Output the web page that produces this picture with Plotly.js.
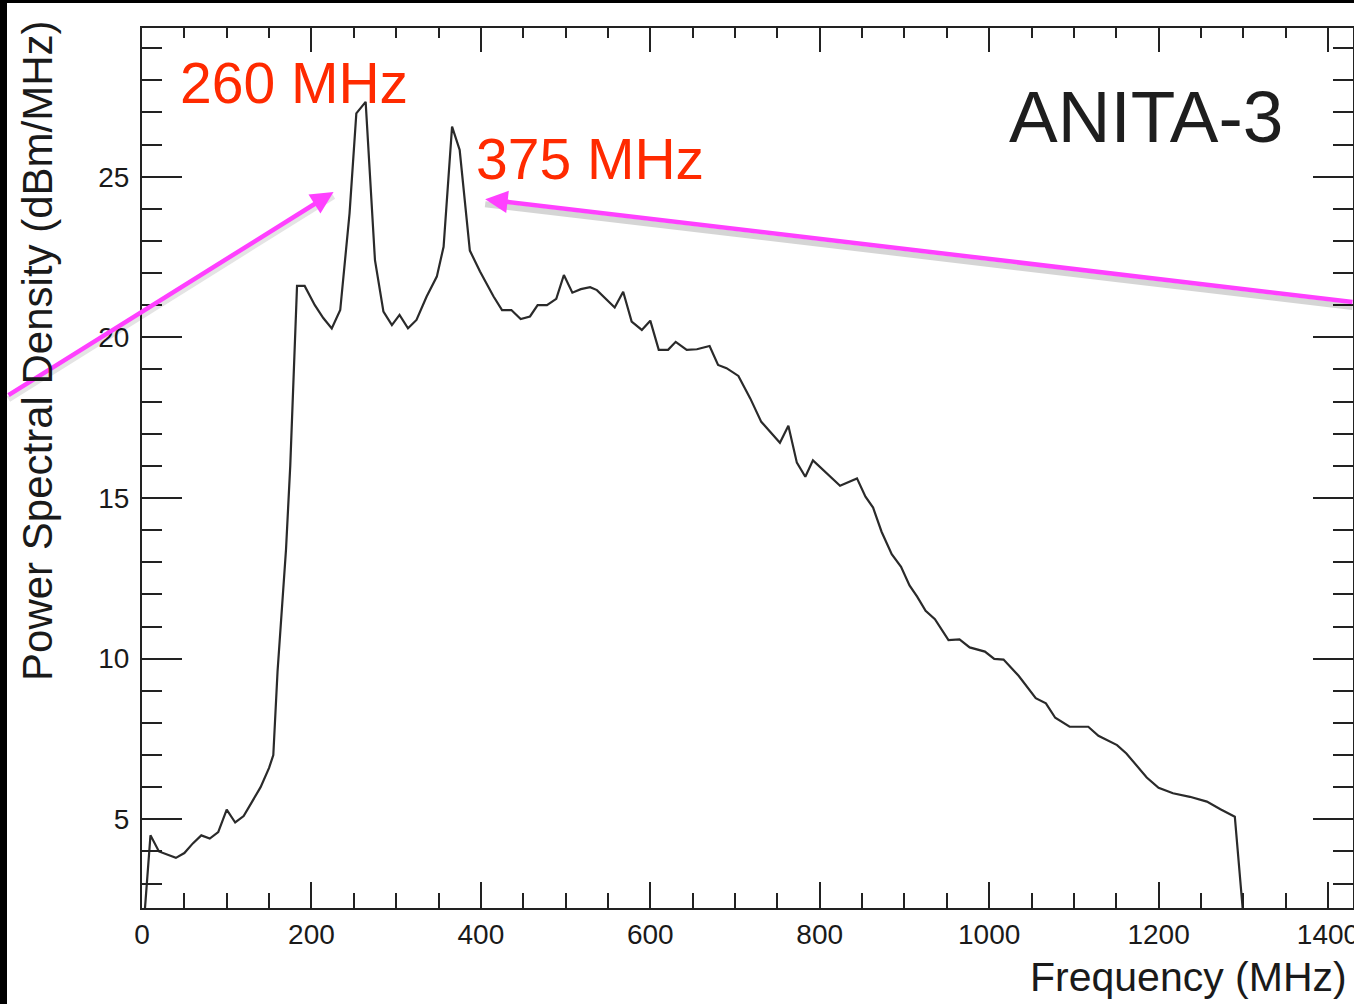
<!DOCTYPE html>
<html>
<head>
<meta charset="utf-8">
<script src="https://cdn.plot.ly/plotly-3.0.1.min.js"></script>
<style>
  html, body { margin: 0; padding: 0; background: #000; width: 1354px; height: 1004px; overflow: hidden; }
  #chart { position: absolute; left: 7px; top: 3px; width: 1347px; height: 1001px; background: #fff; overflow: hidden; }
</style>
</head>
<body>
<div id="chart"></div>
<script>
// Frequency (MHz)
const freq = [0,10,20,30,40,50,60,70,80,90,100,110,120,130,140,150,155,160,165,170,175,180,183,192,204,214,224,234,245,253,264,275,285,295,304,314,324,336,348,356,366,375,387,399,415,425,436,447,458,467,478,489,498,508,518,529,537,558,568,578,590,600,610,621,630,643,655,670,680,690,704,718,731,753,763,773,783,792,807,824,844,854,863,873,885,896,906,915,925,936,952,965,977,995,1006,1017,1035,1049,1055,1067,1078,1095,1117,1129,1143,1151,1162,1186,1200,1217,1237,1257,1273,1290,1300];
// Power spectral density (dBm/MHz)
const psd = [1.0,4.5,4.0,3.9,3.8,3.95,4.25,4.5,4.4,4.6,5.3,4.9,5.1,5.55,6.0,6.6,7.0,9.6,11.4,13.4,16.0,19.9,21.6,21.6,21.0,20.6,20.28,20.85,23.86,26.97,27.33,22.4,20.8,20.38,20.7,20.28,20.54,21.27,21.89,22.82,26.56,25.83,22.7,22.05,21.27,20.85,20.85,20.57,20.65,21.0,21.0,21.2,21.94,21.39,21.5,21.56,21.47,20.93,21.42,20.49,20.23,20.52,19.61,19.61,19.86,19.61,19.63,19.73,19.14,19.04,18.8,18.1,17.37,16.72,17.25,16.1,15.66,16.17,15.8,15.38,15.61,15.04,14.7,13.95,13.25,12.86,12.28,11.93,11.49,11.23,10.58,10.6,10.35,10.22,9.99,9.97,9.46,8.95,8.77,8.61,8.16,7.88,7.88,7.6,7.4,7.31,7.05,6.3,5.98,5.81,5.70,5.55,5.31,5.08,2.0];

const xTickVals = [0,200,400,600,800,1000,1200,1400];
const xTickText = ['0','200','400','600','800','1000','1200','1400'];
const yTickVals = [5,10,15,20,25];
const yTickText = ['5','10','15','20','25'];

const peakLabels = ['260 MHz', '375 MHz'];
const experimentLabel = 'ANITA-3';
const xTitle = 'Frequency (MHz)';
const yTitle = 'Power Spectral Density (dBm/MHz)';

const FONT = 'Liberation Sans, Arial, Helvetica, sans-serif';
const AX = '#222';
const MAG = '#ff40ff';
const RED = '#ff2a00';

const traces = [
  { x: freq, y: psd, type: 'scatter', mode: 'lines', line: { color: '#2a2a2a', width: 2.2 }, hoverinfo: 'skip', xaxis: 'x', yaxis: 'y' },
  { x: freq, y: psd, type: 'scatter', mode: 'lines', line: { color: 'rgba(0,0,0,0)', width: 0 }, hoverinfo: 'skip', xaxis: 'x2', yaxis: 'y2', showlegend: false }
];

const xr = [0, 1429.5];
const yr = [2.239, 29.628];

const layout = {
  width: 1347, height: 1001,
  margin: { l: 135, r: 1, t: 25, b: 96 },
  paper_bgcolor: '#fff', plot_bgcolor: '#fff',
  showlegend: false,
  font: { family: FONT, color: '#1a1a1a' },
  xaxis: {
    range: xr, showgrid: false, zeroline: false,
    showline: true, linecolor: AX, linewidth: 2,
    ticks: 'inside', ticklen: 26, tickwidth: 2, tickcolor: AX,
    tickvals: xTickVals, ticktext: xTickText,
    tickfont: { size: 28, family: FONT, color: '#1a1a1a' },
    ticklabelstandoff: 0,
    ticklabeloverflow: 'allow',
    minor: { dtick: 50, tick0: 0, ticks: 'inside', ticklen: 15, tickwidth: 2, tickcolor: AX, showgrid: false }
  },
  xaxis2: {
    overlaying: 'x', side: 'top', matches: 'x', range: xr,
    showgrid: false, zeroline: false, showticklabels: false,
    showline: true, linecolor: AX, linewidth: 2,
    ticks: 'inside', ticklen: 24, tickwidth: 2, tickcolor: AX,
    tickvals: xTickVals,
    minor: { dtick: 50, tick0: 0, ticks: 'inside', ticklen: 10, tickwidth: 2, tickcolor: AX, showgrid: false }
  },
  yaxis: {
    range: yr, showgrid: false, zeroline: false,
    showline: true, linecolor: AX, linewidth: 2,
    ticks: 'inside', ticklen: 40, tickwidth: 2, tickcolor: AX,
    tickvals: yTickVals, ticktext: yTickText,
    tickfont: { size: 28, family: FONT, color: '#1a1a1a' },
    ticklabelstandoff: 5,
    minor: { dtick: 1, tick0: 0, ticks: 'inside', ticklen: 20, tickwidth: 2, tickcolor: AX, showgrid: false }
  },
  yaxis2: {
    overlaying: 'y', side: 'right', matches: 'y', range: yr,
    showgrid: false, zeroline: false, showticklabels: false,
    showline: true, linecolor: AX, linewidth: 2,
    ticks: 'inside', ticklen: 40, tickwidth: 2, tickcolor: AX,
    tickvals: yTickVals,
    minor: { dtick: 1, tick0: 0, ticks: 'inside', ticklen: 20, tickwidth: 2, tickcolor: AX, showgrid: false }
  },
  annotations: [
    // arrow shadows
    { x: 226.1, y: 24.52, xref: 'x', yref: 'y', text: '', showarrow: true, arrowhead: 0, arrowwidth: 6, arrowcolor: 'rgba(0,0,0,0.10)', ax: -333, ay: 204, yshift: -4 },
    { x: 405.1, y: 24.30, xref: 'x', yref: 'y', text: '', showarrow: true, arrowhead: 0, arrowwidth: 6, arrowcolor: 'rgba(0,0,0,0.16)', ax: 869, ay: 103, yshift: -5 },
    // arrows
    { x: 226.1, y: 24.52, xref: 'x', yref: 'y', text: '', showarrow: true, arrowhead: 2, arrowsize: 1, arrowwidth: 4.5, arrowcolor: MAG, ax: -333, ay: 204 },
    { x: 405.1, y: 24.30, xref: 'x', yref: 'y', text: '', showarrow: true, arrowhead: 2, arrowsize: 1, arrowwidth: 4.5, arrowcolor: MAG, ax: 869, ay: 103 },
    // labels
    { x: 42.8, y: 27.93, xref: 'x', yref: 'y', text: peakLabels[0], showarrow: false, xanchor: 'left', yanchor: 'middle', font: { size: 57, color: RED, family: FONT } },
    { x: 392.2, y: 25.55, xref: 'x', yref: 'y', text: peakLabels[1], showarrow: false, xanchor: 'left', yanchor: 'middle', font: { size: 57, color: RED, family: FONT } },
    { x: 1021.2, y: 26.87, xref: 'x', yref: 'y', text: experimentLabel, showarrow: false, xanchor: 'left', yanchor: 'middle', font: { size: 73, color: '#1e1e1e', family: FONT } },
    // axis titles
    { x: 1, y: -0.078, xref: 'paper', yref: 'paper', text: xTitle, showarrow: false, xanchor: 'right', yanchor: 'middle', xshift: -4, font: { size: 41, color: '#1a1a1a', family: FONT } },
    { x: 0, y: 0.633, xref: 'paper', yref: 'paper', text: yTitle, showarrow: false, textangle: -90, xanchor: 'center', yanchor: 'middle', xshift: -104, font: { size: 42, color: '#1a1a1a', family: FONT } }
  ]
};

Plotly.newPlot('chart', traces, layout, { staticPlot: true, displayModeBar: false });
</script>
</body>
</html>
